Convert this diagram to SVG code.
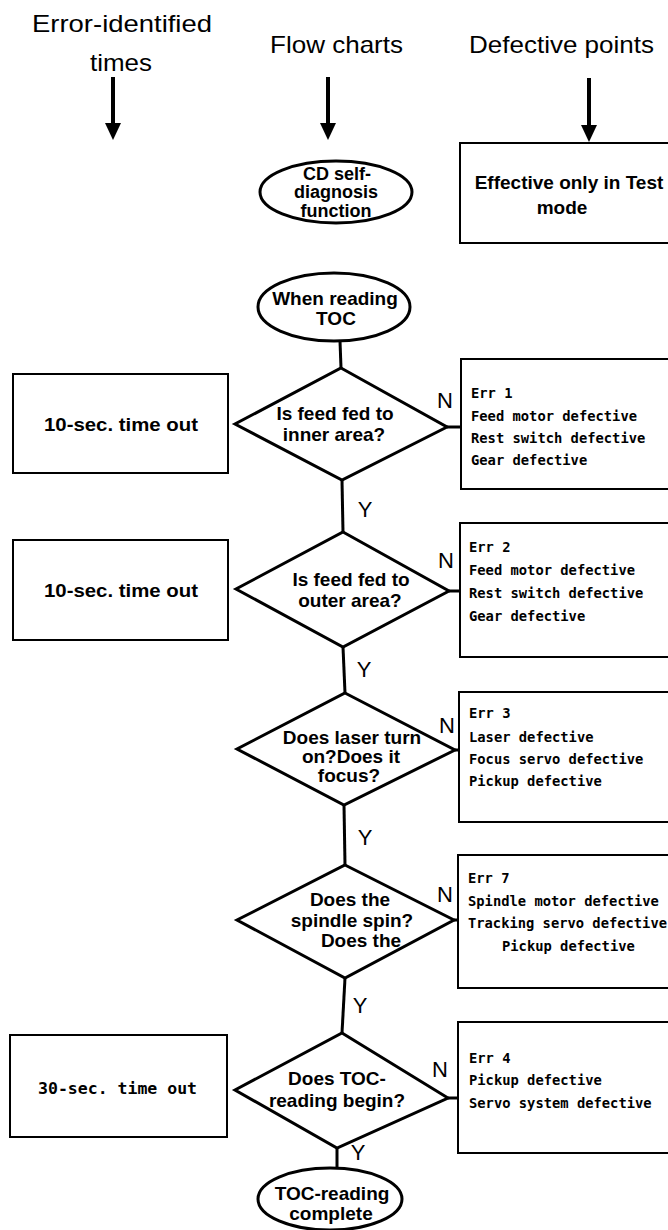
<svg xmlns="http://www.w3.org/2000/svg" width="668" height="1230" viewBox="0 0 668 1230">
<style>
.bg{fill:#fff}
.box{fill:#fff;stroke:#000;stroke-width:2}
.dia{fill:#fff;stroke:#000;stroke-width:3;stroke-linejoin:miter}
.ell{fill:#fff;stroke:#000;stroke-width:3}
.conn{stroke:#000;stroke-width:3;fill:none}
.arr{stroke:#000;stroke-width:4;fill:none}
.hdr{font-family:"Liberation Sans",Arial,sans-serif;font-size:24px;fill:#000}
.lbl{font-family:"Liberation Sans",Arial,sans-serif;font-size:19px;font-weight:bold;text-anchor:middle;fill:#000}
.yn{font-family:"Liberation Sans",Arial,sans-serif;font-size:22px;text-anchor:middle;fill:#000}
.mono{font-family:"DejaVu Sans Mono","Liberation Mono",monospace;font-size:13.8px;font-weight:bold;fill:#000}
</style>
<defs>
<marker id="head" markerUnits="userSpaceOnUse" markerWidth="17" markerHeight="16" refX="0" refY="8" orient="auto">
<path d="M0,0 L17,8 L0,16 Z" fill="#000"/>
</marker>
</defs>
<rect class="bg" x="0" y="0" width="668" height="1230"/>

<g id="headers">
<text class="hdr" x="32" y="32" textLength="180" lengthAdjust="spacingAndGlyphs">Error-identified</text>
<text class="hdr" x="90" y="71" textLength="62" lengthAdjust="spacingAndGlyphs">times</text>
<text class="hdr" x="270" y="53" textLength="133" lengthAdjust="spacingAndGlyphs">Flow charts</text>
<text class="hdr" x="469" y="53" textLength="185" lengthAdjust="spacingAndGlyphs">Defective points</text>
</g>

<g id="connectors">
<path class="arr" d="M113,77 V123" marker-end="url(#head)"/>
<path class="arr" d="M328,77 V123" marker-end="url(#head)"/>
<path class="arr" d="M589,78 V125" marker-end="url(#head)"/>
<path class="conn" d="M340,341 L341,368"/>
<path class="conn" d="M342,480 L343,532"/>
<path class="conn" d="M343,647 L345,693"/>
<path class="conn" d="M344,805 L345,865"/>
<path class="conn" d="M345,978 L342,1033"/>
<path class="conn" d="M337,1148 L337,1167"/>
<path class="conn" d="M447,427 H461"/>
<path class="conn" d="M449,591 H460"/>
<path class="conn" d="M455,750 H459"/>
<path class="conn" d="M454,920 H458"/>
<path class="conn" d="M448,1098 H458"/>
<text class="yn" x="365" y="517">Y</text>
<text class="yn" x="364" y="677">Y</text>
<text class="yn" x="365" y="845">Y</text>
<text class="yn" x="360" y="1013">Y</text>
<text class="yn" x="358" y="1160">Y</text>
<text class="yn" x="445" y="408">N</text>
<text class="yn" x="446" y="568">N</text>
<text class="yn" x="447" y="733">N</text>
<text class="yn" x="445" y="902">N</text>
<text class="yn" x="440" y="1077">N</text>
</g>

<g id="note-test-mode">
<rect class="box" x="460" y="143" width="240" height="100"/>
<text class="lbl" x="569" y="189">Effective only in Test</text>
<text class="lbl" x="562" y="214">mode</text>
</g>

<g id="start-self-diagnosis">
<ellipse class="ell" cx="336" cy="192" rx="76" ry="31"/>
<text class="lbl" x="337" y="180" style="font-size:18px">CD self-</text>
<text class="lbl" x="336" y="198" style="font-size:18px">diagnosis</text>
<text class="lbl" x="336" y="217" style="font-size:18px">function</text>
</g>

<g id="start-reading-toc">
<ellipse class="ell" cx="334" cy="307" rx="76" ry="34"/>
<text class="lbl" x="335" y="305">When reading</text>
<text class="lbl" x="336" y="325">TOC</text>
</g>

<g id="timeout-1">
<rect class="box" x="13" y="374" width="215" height="99"/>
<text class="lbl" x="121" y="431" textLength="154" lengthAdjust="spacingAndGlyphs">10-sec. time out</text>
</g>

<g id="decision-inner">
<polygon class="dia" points="341,368 447,427 342,480 235,424"/>
<text class="lbl" x="335" y="420">Is feed fed to</text>
<text class="lbl" x="334" y="441">inner area?</text>
</g>

<g id="err-1">
<rect class="box" x="461" y="359" width="240" height="130"/>
<text class="mono" x="471" y="398" textLength="41.5" lengthAdjust="spacingAndGlyphs">Err 1</text>
<text class="mono" x="471" y="421" textLength="166" lengthAdjust="spacingAndGlyphs">Feed motor defective</text>
<text class="mono" x="471" y="443" textLength="174.3" lengthAdjust="spacingAndGlyphs">Rest switch defective</text>
<text class="mono" x="471" y="465" textLength="116.2" lengthAdjust="spacingAndGlyphs">Gear defective</text>
</g>

<g id="timeout-2">
<rect class="box" x="13" y="540" width="215" height="100"/>
<text class="lbl" x="121" y="597" textLength="154" lengthAdjust="spacingAndGlyphs">10-sec. time out</text>
</g>

<g id="decision-outer">
<polygon class="dia" points="343,532 449,591 343,647 236,589"/>
<text class="lbl" x="351" y="586">Is feed fed to</text>
<text class="lbl" x="350" y="607">outer area?</text>
</g>

<g id="err-2">
<rect class="box" x="460" y="523" width="240" height="134"/>
<text class="mono" x="469" y="552" textLength="41.5" lengthAdjust="spacingAndGlyphs">Err 2</text>
<text class="mono" x="469" y="575" textLength="166" lengthAdjust="spacingAndGlyphs">Feed motor defective</text>
<text class="mono" x="469" y="598" textLength="174.3" lengthAdjust="spacingAndGlyphs">Rest switch defective</text>
<text class="mono" x="469" y="621" textLength="116.2" lengthAdjust="spacingAndGlyphs">Gear defective</text>
</g>

<g id="decision-laser">
<polygon class="dia" points="345,693 455,750 344,805 237,749"/>
<text class="lbl" x="352" y="744">Does laser turn</text>
<text class="lbl" x="351" y="763">on?Does it</text>
<text class="lbl" x="349" y="782">focus?</text>
</g>

<g id="err-3">
<rect class="box" x="459" y="692" width="240" height="130"/>
<text class="mono" x="469" y="718" textLength="41.5" lengthAdjust="spacingAndGlyphs">Err 3</text>
<text class="mono" x="469" y="742" textLength="124.5" lengthAdjust="spacingAndGlyphs">Laser defective</text>
<text class="mono" x="469" y="764" textLength="174.3" lengthAdjust="spacingAndGlyphs">Focus servo defective</text>
<text class="mono" x="469" y="786" textLength="132.8" lengthAdjust="spacingAndGlyphs">Pickup defective</text>
</g>

<g id="decision-spindle">
<polygon class="dia" points="345,865 454,920 345,978 237,920"/>
<text class="lbl" x="350" y="906">Does the</text>
<text class="lbl" x="352" y="927">spindle spin?</text>
<text class="lbl" x="361" y="947">Does the</text>
</g>

<g id="err-7">
<rect class="box" x="458" y="855" width="240" height="133"/>
<text class="mono" x="468" y="883" textLength="41.5" lengthAdjust="spacingAndGlyphs">Err 7</text>
<text class="mono" x="468" y="906" textLength="190.9" lengthAdjust="spacingAndGlyphs">Spindle motor defective</text>
<text class="mono" x="468" y="928" textLength="199" lengthAdjust="spacingAndGlyphs">Tracking servo defective</text>
<text class="mono" x="502" y="951" textLength="132.8" lengthAdjust="spacingAndGlyphs">Pickup defective</text>
</g>

<g id="timeout-3">
<rect class="box" x="10" y="1035" width="217" height="102"/>
<text class="mono" x="38" y="1094" style="font-size:16px" textLength="159" lengthAdjust="spacingAndGlyphs">30-sec. time out</text>
</g>

<g id="decision-toc">
<polygon class="dia" points="342,1033 448,1098 337,1148 235,1090"/>
<text class="lbl" x="337" y="1085">Does TOC-</text>
<text class="lbl" x="337" y="1107">reading begin?</text>
</g>

<g id="err-4">
<rect class="box" x="458" y="1022" width="240" height="131"/>
<text class="mono" x="469" y="1063" textLength="41.5" lengthAdjust="spacingAndGlyphs">Err 4</text>
<text class="mono" x="469" y="1085" textLength="132.8" lengthAdjust="spacingAndGlyphs">Pickup defective</text>
<text class="mono" x="469" y="1108" textLength="182.6" lengthAdjust="spacingAndGlyphs">Servo system defective</text>
</g>

<g id="end-toc-complete">
<ellipse class="ell" cx="330" cy="1199" rx="72" ry="31"/>
<text class="lbl" x="332" y="1200">TOC-reading</text>
<text class="lbl" x="331" y="1220">complete</text>
</g>
</svg>
